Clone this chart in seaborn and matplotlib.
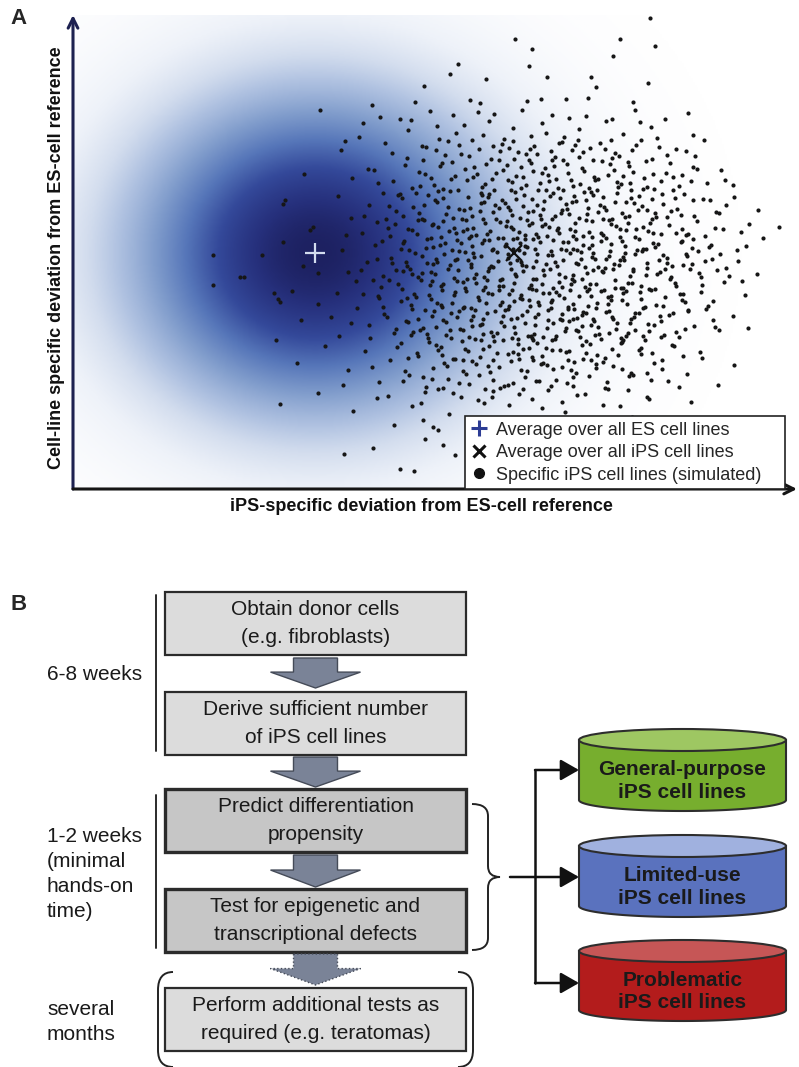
import numpy as np
import pandas as pd
import matplotlib.pyplot as plt
import seaborn as sns
from matplotlib.patches import Rectangle, Polygon, Ellipse, PathPatch
from matplotlib.path import Path
from matplotlib.lines import Line2D
from matplotlib.colors import LinearSegmentedColormap

# ---- panel A data (arbitrary deviation units) ----
es_mean = (24.2, 23.6)
ips_mean = (44.1, 23.6)
es_spread = (12.8, 11.2)

ips_points = [
    (57.7, 47.1), (44.2, 45.0), (54.7, 45.0),
    (45.9, 44.0), (58.2, 44.3), (54.0, 43.3), (38.5, 42.5), (37.7, 41.5), (41.3, 41.0), (45.6, 42.3), (47.4, 41.2),
    (51.8, 41.2), (52.3, 40.2), (57.5, 40.6), (35.1, 40.3),
    (56.0, 38.7), (56.2, 37.9), (51.5, 39.1), (49.3, 39.0), (46.8, 39.0), (45.4, 38.8), (39.7, 38.9), (40.7, 38.6),
    (34.2, 38.7), (29.9, 38.4), (30.7, 37.2), (32.7, 37.0), (24.7, 37.9), (59.2, 37.0), (36.4, 36.3), (42.1, 37.5),
    (44.0, 36.1), (47.9, 37.4), (50.6, 36.0), (53.3, 36.8), (38.3, 35.6), (33.5, 35.9), (28.6, 35.2), (41.0, 35.4),
    (45.8, 35.3), (49.1, 35.2), (55.0, 35.5), (57.8, 36.2), (62.0, 35.4), (35.7, 37.8),
    (23.1, 31.5), (26.8, 33.9), (29.5, 32.0), (31.2, 34.6), (32.0, 30.8), (33.4, 33.1), (34.6, 31.7), (35.3, 34.2),
    (36.1, 30.4), (36.9, 32.6), (37.5, 34.8), (38.2, 31.3), (38.8, 33.5), (39.4, 30.9), (40.1, 32.2), (40.6, 34.0),
    (41.2, 30.5), (41.8, 33.0), (42.3, 31.6), (42.9, 34.5), (43.4, 32.4), (43.9, 30.7), (44.5, 33.7), (45.0, 31.2),
    (45.6, 32.9), (46.1, 34.3), (46.7, 30.6), (47.2, 32.1), (47.8, 33.8), (48.3, 31.0), (48.9, 34.7), (49.4, 32.5),
    (50.0, 30.3), (50.6, 33.2), (51.1, 31.8), (51.7, 34.1), (52.2, 30.9), (52.9, 32.8), (53.5, 31.4), (54.2, 33.6),
    (54.8, 30.5), (55.6, 32.3), (56.3, 34.4), (57.1, 31.1), (57.9, 33.0), (58.8, 30.8), (59.7, 32.6), (60.9, 31.4),
    (62.2, 33.3), (63.4, 30.6), (64.8, 31.9), (66.0, 30.4), (35.0, 32.9), (39.9, 34.9), (44.8, 30.1), (49.9, 33.9),
    (53.8, 34.9), (30.5, 30.6), (27.9, 31.1), (43.1, 35.0),
    (21.0, 28.5), (21.2, 28.9), (23.7, 25.9), (24.0, 26.2), (26.5, 29.3), (27.8, 27.1), (28.9, 25.6), (29.6, 28.4),
    (30.4, 26.7), (31.0, 29.6), (31.7, 25.3), (32.3, 27.8), (32.9, 29.1), (33.5, 26.0), (34.0, 28.2), (34.4, 25.5),
    (34.9, 27.0), (35.5, 29.4), (35.9, 26.4), (36.4, 28.7), (36.8, 25.2), (37.3, 27.5), (37.7, 29.8), (38.1, 26.1),
    (38.6, 28.0), (39.0, 25.8), (39.5, 29.2), (39.9, 27.3), (40.3, 25.4), (40.8, 28.6), (41.2, 26.6), (41.6, 29.5),
    (42.0, 27.7), (42.5, 25.1), (42.9, 28.9), (43.3, 26.3), (43.7, 27.9), (44.2, 29.7), (44.6, 25.7), (45.0, 28.3),
    (45.4, 26.9), (45.9, 29.0), (46.3, 25.5), (46.7, 27.4), (47.1, 28.8), (47.6, 26.2), (48.0, 29.6), (48.4, 25.9),
    (48.8, 27.6), (49.3, 28.5), (49.7, 26.0), (50.1, 29.3), (50.6, 27.1), (51.0, 25.3), (51.5, 28.1), (51.9, 26.8),
    (52.4, 29.9), (52.8, 25.6), (53.3, 27.9), (53.8, 26.5), (54.2, 28.7), (54.7, 25.2), (55.2, 27.2), (55.8, 29.1),
    (56.3, 26.0), (56.9, 28.3), (57.5, 25.8), (58.2, 27.6), (58.9, 29.5), (59.6, 26.4), (60.4, 28.0), (61.3, 25.4),
    (62.1, 27.3), (63.0, 29.0), (64.2, 26.1), (65.3, 28.4), (66.8, 25.7), (68.5, 27.9), (70.6, 26.2), (37.0, 26.8),
    (41.0, 27.0), (44.0, 26.0), (47.9, 27.0), (50.3, 25.0), (53.0, 29.2), (55.5, 26.6), (43.5, 28.2), (39.3, 26.9),
    (46.5, 29.9), (33.0, 27.3), (57.9, 27.0), (60.0, 29.9), (49.0, 29.9), (35.8, 25.1), (45.2, 25.0),
    (14.0, 23.4), (18.9, 23.4), (21.0, 24.7), (24.5, 21.6), (26.9, 23.9), (28.3, 20.8), (29.4, 22.7), (30.2, 24.4),
    (31.0, 21.3), (31.8, 23.1), (32.5, 20.5), (33.1, 24.8), (33.7, 22.0), (34.2, 23.6), (34.8, 20.9), (35.3, 24.1),
    (35.8, 21.7), (36.3, 23.0), (36.8, 20.3), (37.2, 24.6), (37.7, 22.4), (38.1, 21.1), (38.6, 23.8), (39.0, 20.7),
    (39.5, 22.9), (39.9, 24.3), (40.3, 21.5), (40.8, 23.3), (41.2, 20.2), (41.6, 24.9), (42.0, 22.2), (42.4, 23.7),
    (42.9, 21.0), (43.3, 24.5), (43.7, 22.6), (44.1, 20.6), (44.6, 23.9), (45.0, 21.8), (45.4, 24.2), (45.8, 20.4),
    (46.3, 22.8), (46.7, 24.7), (47.1, 21.4), (47.5, 23.4), (48.0, 20.1), (48.4, 22.3), (48.8, 24.0), (49.2, 21.2),
    (49.7, 23.6), (50.1, 20.8), (50.5, 22.5), (51.0, 24.4), (51.4, 21.6), (51.9, 23.2), (52.3, 20.5), (52.8, 24.8),
    (53.2, 22.1), (53.7, 23.8), (54.2, 20.9), (54.7, 22.9), (55.2, 24.3), (55.7, 21.3), (56.2, 23.5), (56.8, 20.3),
    (57.4, 22.6), (58.0, 24.6), (58.7, 21.7), (59.4, 23.1), (60.2, 20.6), (61.0, 22.4), (61.9, 24.1), (62.8, 21.2),
    (63.9, 23.0), (65.1, 20.7), (66.5, 22.8), (68.4, 21.5), (67.3, 24.3), (38.4, 24.9), (44.9, 22.4), (51.6, 20.0),
    (57.0, 24.0), (46.0, 21.0), (42.7, 20.9), (50.4, 23.9), (36.0, 22.5), (54.0, 22.0), (48.6, 20.7), (40.0, 23.6),
    (33.0, 21.8), (59.9, 22.3), (16.7, 21.2), (17.1, 21.2), (23.0, 22.3), (27.5, 21.7), (47.7, 22.0), (44.0, 24.0),
    (41.5, 21.8), (52.0, 21.9), (55.0, 20.1), (60.8, 24.7), (62.5, 23.8), (64.4, 21.9), (39.2, 20.1), (34.5, 21.2),
    (30.8, 20.2),
    (14.0, 20.4), (20.1, 19.6), (20.5, 19.0), (20.7, 18.7), (21.9, 19.8), (24.5, 18.5), (22.8, 16.9), (26.6, 15.3),
    (28.4, 18.1), (29.6, 16.4), (30.5, 19.3), (31.4, 17.2), (32.1, 15.6), (32.8, 18.8), (33.5, 16.7), (34.1, 19.5),
    (34.7, 15.9), (35.2, 17.9), (35.8, 19.0), (36.3, 16.2), (36.8, 18.4), (37.3, 15.4), (37.8, 17.6), (38.2, 19.7),
    (38.7, 16.0), (39.1, 18.2), (39.6, 15.2), (40.0, 17.3), (40.5, 19.2), (40.9, 16.5), (41.3, 18.6), (41.8, 15.7),
    (42.2, 17.8), (42.6, 19.9), (43.1, 16.3), (43.5, 18.0), (43.9, 15.1), (44.4, 17.1), (44.8, 19.4), (45.2, 16.6),
    (45.7, 18.3), (46.1, 15.5), (46.5, 17.5), (47.0, 19.6), (47.4, 16.1), (47.8, 18.7), (48.3, 15.3), (48.7, 17.0),
    (49.1, 19.1), (49.6, 16.8), (50.0, 18.5), (50.5, 15.8), (50.9, 17.4), (51.4, 19.8), (51.8, 16.4), (52.3, 18.1),
    (52.8, 15.0), (53.3, 17.7), (53.8, 19.3), (54.3, 16.0), (54.9, 18.9), (55.5, 15.6), (56.1, 17.2), (56.8, 19.0),
    (57.5, 16.5), (58.3, 18.4), (59.1, 15.4), (60.0, 17.6), (61.0, 19.5), (62.1, 16.3), (63.3, 18.0), (64.6, 15.9),
    (66.0, 17.3), (67.5, 16.1), (39.8, 16.9), (44.1, 18.8), (48.0, 16.6), (52.0, 17.0), (46.3, 19.9), (42.0, 15.3),
    (37.0, 16.9), (55.0, 19.6), (50.7, 15.2), (33.9, 18.0), (29.0, 19.5), (58.8, 16.8), (45.5, 15.3), (41.0, 19.9),
    (53.6, 15.6), (61.5, 17.9), (43.0, 17.3), (49.5, 18.0), (35.5, 15.1), (57.0, 15.3), (25.8, 17.2),
    (20.3, 14.9), (22.4, 12.6), (25.2, 14.3), (27.5, 11.9), (29.2, 13.8), (30.6, 10.7), (31.7, 12.9), (32.8, 14.6),
    (33.6, 11.4), (34.5, 13.3), (35.3, 10.2), (36.0, 12.1), (36.8, 14.2), (37.5, 11.0), (38.2, 13.0), (38.9, 14.8),
    (39.6, 10.5), (40.3, 12.5), (41.0, 14.0), (41.7, 11.7), (42.4, 13.6), (43.1, 10.3), (43.8, 12.8), (44.5, 14.5),
    (45.2, 11.2), (45.9, 13.2), (46.6, 10.8), (47.3, 14.1), (48.0, 12.0), (48.7, 13.9), (49.4, 10.6), (50.1, 12.7),
    (50.9, 14.4), (51.6, 11.3), (52.4, 13.4), (53.2, 10.1), (54.0, 12.3), (54.9, 14.7), (55.8, 11.6), (56.8, 13.5),
    (57.8, 10.9), (58.9, 12.9), (60.1, 14.3), (61.4, 11.5), (62.9, 13.1), (64.5, 10.4), (66.1, 12.4), (39.0, 11.8),
    (44.0, 13.7), (47.0, 12.6), (51.0, 13.0), (42.0, 10.9), (36.5, 13.9), (53.9, 14.0), (49.8, 11.9), (45.0, 10.0),
    (33.0, 10.8), (57.2, 14.9), (46.0, 14.9), (40.8, 14.9),
    (20.7, 8.5), (24.5, 9.6), (28.0, 7.8), (30.4, 9.1), (32.1, 6.4), (33.9, 8.3), (35.2, 9.7), (36.5, 5.9),
    (37.6, 7.5), (38.8, 9.2), (39.9, 6.8), (41.1, 8.6), (42.3, 5.4), (43.4, 7.1), (44.6, 9.5), (45.7, 6.2),
    (46.9, 8.1), (48.0, 5.6), (49.2, 7.7), (50.4, 9.4), (51.7, 6.5), (53.0, 8.4), (54.4, 5.3), (55.9, 7.2),
    (57.6, 9.0), (59.5, 6.9), (61.8, 8.7), (42.0, 9.8), (47.5, 9.9), (35.0, 6.9),
    (32.7, 2.0), (35.2, 5.0), (36.0, 6.2), (38.2, 3.4), (30.0, 4.1), (34.1, 1.8), (37.0, 4.4), (44.0, 4.0),
    (50.0, 3.0), (27.1, 3.5),
    # denser core of the simulated cloud
    (33.8, 36.9), (37.2, 33.4), (40.5, 37.7), (43.6, 34.1), (46.9, 36.6), (48.2, 33.2), (51.3, 37.3), (52.7, 34.6),
    (55.9, 33.9), (58.4, 35.1), (31.9, 33.6), (36.6, 35.0), (39.1, 36.4), (42.7, 33.8), (44.9, 37.9), (47.3, 35.6),
    (50.2, 34.4), (53.9, 37.0), (56.7, 36.7), (60.3, 34.0), (34.9, 34.3), (41.6, 36.8), (45.3, 33.5), (49.6, 37.1),
    (54.6, 33.3), (38.0, 37.4), (29.0, 36.6), (61.5, 37.6), (27.2, 34.8), (63.1, 34.9),
    (30.1, 31.9), (31.6, 28.3), (33.2, 32.4), (34.3, 29.6), (35.8, 31.1), (36.2, 28.9), (37.9, 32.7), (38.5, 29.9),
    (39.7, 28.1), (40.4, 31.5), (41.5, 29.2), (42.6, 32.9), (43.2, 28.6), (44.3, 31.3), (45.1, 29.4), (45.8, 32.6),
    (46.4, 28.4), (47.6, 30.8), (48.1, 32.3), (48.7, 29.1), (49.5, 31.6), (50.3, 28.8), (50.9, 32.1), (51.8, 29.7),
    (52.5, 31.0), (53.1, 28.2), (53.7, 32.5), (54.5, 30.2), (55.3, 28.7), (56.0, 31.7), (56.6, 29.3), (57.3, 32.8),
    (58.1, 30.0), (59.0, 28.5), (60.0, 31.2), (61.1, 29.5), (62.4, 32.0), (63.7, 28.9), (65.2, 30.9), (34.7, 30.3),
    (37.0, 30.0), (39.2, 32.0), (41.9, 31.0), (43.8, 29.9), (46.0, 31.8), (48.5, 30.1), (50.7, 30.5), (52.0, 32.9),
    (54.1, 31.9), (57.0, 30.0), (59.3, 31.6), (44.8, 32.2), (42.2, 28.4), (47.0, 28.0), (51.3, 28.9), (55.7, 30.6),
    (32.5, 29.4), (36.7, 32.3), (40.8, 29.6), (61.8, 30.8),
    (29.1, 27.3), (30.9, 24.8), (32.2, 26.5), (33.6, 23.9), (34.6, 27.6), (35.4, 25.0), (36.5, 26.2), (37.1, 23.5),
    (38.0, 27.1), (38.8, 24.6), (39.4, 26.0), (40.1, 23.2), (40.7, 27.8), (41.4, 25.5), (41.9, 23.9), (42.7, 26.7),
    (43.2, 24.3), (43.9, 27.4), (44.4, 25.1), (45.1, 23.6), (45.6, 26.4), (46.2, 24.0), (46.8, 27.0), (47.4, 25.3),
    (47.9, 23.4), (48.5, 26.1), (49.0, 24.7), (49.6, 27.5), (50.2, 25.8), (50.8, 23.7), (51.3, 26.9), (51.9, 24.4),
    (52.5, 27.7), (53.0, 25.4), (53.6, 23.3), (54.3, 26.3), (54.9, 24.8), (55.6, 27.3), (56.2, 25.2), (56.9, 23.8),
    (57.7, 26.6), (58.5, 24.5), (59.4, 27.2), (60.3, 25.6), (61.3, 23.5), (62.4, 26.8), (63.6, 24.2), (65.0, 26.0),
    (66.4, 23.9), (69.0, 25.1), (36.0, 24.2), (39.8, 25.3), (42.3, 27.0), (44.7, 24.6), (47.2, 26.5), (49.3, 23.9),
    (51.6, 25.7), (53.9, 27.0), (55.2, 23.6), (58.0, 25.6), (60.8, 27.4), (37.6, 25.8), (43.5, 23.1), (46.0, 25.0),
    (48.9, 27.9), (52.2, 23.0), (54.7, 26.0), (57.3, 24.0), (41.1, 24.9), (35.1, 26.9), (31.5, 26.1), (33.0, 24.6),
    (45.5, 27.7), (50.0, 24.0), (56.5, 27.9), (59.0, 23.4), (62.0, 25.0), (38.4, 23.0), (27.3, 25.4), (64.3, 27.7),
    (28.8, 21.9), (30.6, 19.1), (31.9, 22.6), (32.9, 20.0), (33.8, 18.4), (34.9, 21.6), (35.6, 19.4), (36.4, 22.7),
    (37.0, 20.5), (37.9, 18.6), (38.5, 21.9), (39.3, 19.8), (39.8, 22.5), (40.6, 18.9), (41.1, 21.2), (41.9, 19.5),
    (42.5, 22.8), (43.0, 20.3), (43.6, 18.3), (44.2, 21.5), (44.7, 19.1), (45.3, 22.3), (45.9, 20.0), (46.5, 18.7),
    (47.0, 21.9), (47.6, 19.6), (48.2, 22.7), (48.9, 20.2), (49.5, 18.2), (50.0, 21.4), (50.6, 19.3), (51.2, 22.2),
    (51.7, 20.5), (52.4, 18.6), (53.0, 21.7), (53.5, 19.2), (54.1, 22.5), (54.8, 20.1), (55.4, 18.5), (56.0, 21.8),
    (56.7, 19.7), (57.4, 22.1), (58.2, 20.0), (59.0, 18.3), (59.8, 21.2), (60.7, 19.5), (61.7, 22.0), (62.9, 20.4),
    (64.0, 18.8), (65.6, 21.3), (35.9, 20.8), (38.2, 22.9), (40.3, 20.6), (42.7, 18.4), (44.4, 22.9), (46.3, 21.0),
    (48.6, 19.4), (50.9, 21.0), (52.8, 19.8), (55.1, 22.9), (57.0, 18.1), (59.4, 22.6), (36.9, 18.2), (41.6, 22.1),
    (45.6, 18.9), (49.8, 20.5), (53.8, 18.9), (58.4, 21.5), (61.2, 18.7), (33.4, 22.3), (30.0, 20.9), (26.4, 19.6),
    (47.8, 18.1), (43.9, 19.9), (51.5, 18.3), (55.9, 20.6), (39.0, 18.1), (63.2, 22.8), (67.2, 19.4), (34.3, 19.2),
    (29.7, 15.1), (31.1, 17.5), (32.4, 14.2), (33.3, 16.8), (34.4, 13.6), (35.0, 16.1), (36.1, 17.8), (36.9, 13.4),
    (37.7, 15.9), (38.4, 17.2), (39.2, 14.0), (39.9, 16.3), (40.7, 13.2), (41.4, 17.6), (42.1, 14.8), (42.8, 16.7),
    (43.5, 13.5), (44.2, 15.6), (44.9, 17.4), (45.6, 14.1), (46.2, 16.4), (46.9, 13.3), (47.5, 17.9), (48.2, 15.0),
    (48.9, 16.9), (49.6, 13.8), (50.3, 15.9), (51.0, 17.7), (51.7, 14.5), (52.5, 16.2), (53.2, 13.1), (54.0, 17.0),
    (54.8, 14.6), (55.7, 16.6), (56.6, 13.9), (57.6, 15.8), (58.7, 17.3), (59.9, 14.4), (61.2, 16.0), (62.7, 13.7),
    (38.0, 13.0), (41.0, 15.5), (43.8, 17.0), (45.9, 15.1), (47.9, 13.9), (50.0, 17.0), (52.2, 15.4), (53.6, 17.8),
    (55.3, 15.3), (57.9, 13.6), (35.6, 14.7), (40.2, 17.9), (44.6, 13.0), (49.3, 16.1), (51.3, 13.6), (56.2, 17.6),
    (60.6, 15.2), (33.8, 15.4), (27.8, 16.6), (64.0, 16.9),
    (27.0, 10.4), (29.9, 12.2), (31.5, 9.3), (33.2, 11.8), (34.8, 8.6), (35.9, 11.0), (37.1, 12.6), (38.0, 9.6),
    (39.3, 11.5), (40.5, 8.9), (41.5, 12.3), (42.7, 10.1), (43.6, 8.4), (44.8, 11.9), (45.9, 9.0), (46.8, 12.5),
    (47.8, 10.3), (48.9, 8.7), (50.0, 11.2), (51.2, 9.5), (52.3, 12.1), (53.5, 10.0), (54.7, 8.3), (56.0, 11.4),
    (57.4, 9.2), (58.9, 12.0), (60.6, 10.2), (36.5, 10.0), (41.9, 9.2), (46.3, 10.8), (49.5, 12.9), (53.0, 12.7),
    (44.0, 10.6), (39.0, 12.9), (55.5, 9.9),
    # innermost, most crowded part around the iPS average
    (36.3, 33.9), (37.8, 31.0), (39.6, 33.3), (40.9, 30.2), (42.0, 34.3), (43.0, 31.9), (44.1, 33.0), (45.3, 30.4),
    (46.4, 33.5), (47.5, 31.4), (48.6, 34.6), (49.8, 30.9), (51.0, 33.7), (52.1, 31.2), (53.2, 34.0), (54.4, 30.7),
    (55.5, 32.7), (56.8, 34.9), (58.0, 31.5), (59.4, 33.4), (60.6, 30.3), (62.0, 32.2), (38.6, 34.4), (41.3, 32.5),
    (44.0, 34.8), (46.9, 31.6), (49.0, 32.9), (51.6, 30.1), (53.9, 33.1), (57.4, 30.2), (35.2, 31.5), (40.0, 31.2),
    (43.5, 30.9), (47.9, 32.9), (50.5, 34.9), (55.0, 31.3), (58.6, 34.2), (33.9, 30.1), (61.3, 33.8), (45.7, 34.0),
    (31.3, 27.0), (32.7, 29.5), (33.9, 25.9), (35.1, 28.4), (36.0, 26.5), (37.0, 29.1), (38.3, 25.6), (39.1, 27.9),
    (40.0, 26.1), (40.9, 29.4), (41.7, 25.8), (42.6, 28.1), (43.4, 26.8), (44.3, 29.0), (45.2, 25.4), (46.0, 27.8),
    (46.9, 26.3), (47.7, 29.3), (48.6, 25.6), (49.4, 28.0), (50.2, 26.6), (51.1, 29.7), (51.9, 25.2), (52.7, 28.4),
    (53.6, 26.9), (54.4, 29.6), (55.3, 25.9), (56.1, 28.6), (57.0, 26.2), (57.9, 29.0), (58.8, 25.5), (59.8, 27.8),
    (60.9, 26.0), (62.0, 28.9), (63.2, 25.3), (64.6, 27.6), (66.1, 29.2), (67.6, 26.5), (37.5, 28.2), (41.1, 28.7),
    (44.7, 27.1), (48.2, 27.3), (51.4, 27.5), (54.9, 27.6), (58.3, 27.2), (39.6, 25.1), (43.0, 25.1), (46.5, 25.2),
    (50.0, 25.3), (53.3, 25.1), (56.6, 25.0), (61.5, 25.5), (36.5, 29.8), (42.1, 29.9), (47.3, 29.9), (52.0, 29.4),
    (55.8, 29.9), (34.5, 26.9), (45.9, 26.6), (49.9, 28.7), (53.0, 27.0), (57.4, 27.9), (60.2, 29.1), (43.8, 26.2),
    (38.9, 27.0),
    (30.4, 23.0), (31.6, 20.9), (32.8, 24.0), (33.9, 21.5), (34.9, 23.3), (35.7, 20.4), (36.7, 24.4), (37.5, 22.0),
    (38.4, 20.8), (39.2, 23.7), (40.1, 21.1), (40.9, 24.6), (41.8, 22.3), (42.6, 20.3), (43.5, 23.5), (44.3, 21.3),
    (45.2, 24.3), (46.0, 22.2), (46.9, 20.5), (47.8, 23.8), (48.6, 21.5), (49.5, 24.7), (50.3, 22.6), (51.2, 20.2),
    (52.0, 23.6), (52.9, 21.8), (53.8, 24.5), (54.6, 22.4), (55.5, 20.6), (56.4, 23.9), (57.3, 21.4), (58.2, 24.2),
    (59.2, 22.0), (60.3, 20.3), (61.4, 23.3), (62.6, 21.6), (63.8, 24.4), (65.3, 22.1), (66.9, 20.8), (36.2, 21.5),
    (39.8, 22.2), (42.0, 24.0), (44.8, 22.7), (47.3, 22.5), (49.9, 21.0), (52.5, 22.2), (55.0, 23.2), (58.6, 22.9),
    (37.9, 23.9), (41.4, 20.9), (45.6, 20.1), (48.0, 24.9), (51.6, 24.1), (54.2, 20.1), (57.6, 20.0), (60.9, 24.8),
    (33.3, 22.7), (43.8, 22.0), (46.4, 23.5), (50.8, 23.0), (53.3, 23.0), (56.0, 22.0), (59.7, 21.0), (39.4, 21.0),
    (35.4, 22.6), (61.9, 22.5), (44.0, 25.0), (49.0, 22.9), (32.3, 21.9), (64.7, 23.5),
    (31.0, 18.2), (32.3, 16.0), (33.4, 19.1), (34.5, 17.0), (35.4, 15.5), (36.4, 18.6), (37.3, 16.7), (38.1, 19.4),
    (39.0, 15.9), (39.8, 18.1), (40.7, 16.4), (41.5, 19.6), (42.4, 15.6), (43.2, 17.9), (44.1, 16.2), (44.9, 19.0),
    (45.8, 15.3), (46.6, 18.4), (47.5, 16.9), (48.3, 19.7), (49.2, 15.8), (50.1, 18.0), (50.9, 16.3), (51.8, 19.3),
    (52.6, 15.5), (53.5, 18.5), (54.4, 16.6), (55.3, 19.8), (56.2, 15.9), (57.2, 18.2), (58.1, 16.4), (59.2, 19.2),
    (60.3, 15.7), (61.5, 17.8), (62.8, 19.7), (64.2, 16.2), (37.8, 15.1), (41.0, 17.0), (43.6, 19.5), (46.2, 17.2),
    (48.9, 17.5), (51.3, 17.6), (53.9, 17.2), (56.6, 17.6), (59.6, 17.4), (35.9, 17.3), (40.2, 15.0), (45.4, 17.8),
    (49.7, 19.9), (54.8, 15.1), (42.9, 18.7), (47.0, 15.2), (52.1, 16.8), (57.8, 19.9), (38.6, 17.8), (44.5, 15.0),
    (50.4, 17.1), (55.8, 17.0), (60.9, 18.9), (34.0, 15.7), (36.9, 19.9), (47.9, 18.9), (53.1, 19.9), (58.8, 15.2),
    (63.5, 18.3),
    (33.5, 13.1), (35.0, 11.2), (36.3, 14.4), (37.4, 12.3), (38.6, 10.6), (39.5, 13.8), (40.6, 11.4), (41.6, 14.3),
    (42.6, 12.2), (43.5, 10.4), (44.5, 13.5), (45.4, 11.8), (46.4, 14.6), (47.4, 12.4), (48.3, 10.9), (49.3, 13.7),
    (50.3, 11.6), (51.3, 14.8), (52.3, 12.5), (53.4, 10.7), (54.5, 13.4), (55.6, 11.3), (56.8, 14.1), (58.1, 12.6),
    (59.5, 10.8), (61.0, 13.3), (39.9, 12.8), (43.0, 14.9), (46.0, 12.9), (48.9, 12.2), (51.8, 12.9), (54.9, 12.0),
    (57.4, 11.6), (37.0, 10.1), (41.2, 10.0), (45.0, 14.0), (50.0, 10.3), (55.0, 14.9), (47.9, 14.9), (42.0, 12.9),
]

legend_labels = ["Average over all ES cell lines",
                 "Average over all iPS cell lines",
                 "Specific iPS cell lines (simulated)"]
x_label = "iPS-specific deviation from ES-cell reference"
y_label = "Cell-line specific deviation from ES-cell reference"

# ---- panel B data ----
steps = ["Obtain donor cells\n(e.g. fibroblasts)",
         "Derive sufficient number\nof iPS cell lines",
         "Predict differentiation\npropensity",
         "Test for epigenetic and\ntranscriptional defects",
         "Perform additional tests as\nrequired (e.g. teratomas)"]
step_kind = ["light", "light", "dark", "dark", "light"]
durations = ["6-8 weeks", "1-2 weeks\n(minimal\nhands-on\ntime)", "several\nmonths"]
outcomes = ["General-purpose\niPS cell lines", "Limited-use\niPS cell lines", "Problematic\niPS cell lines"]
outcome_colors = [("#77ae2e", "#9ec762"), ("#5a72be", "#a0b1df"), ("#b31c1c", "#c65656")]

sns.set_style("white")
plt.rcParams["font.family"] = ["Liberation Sans", "DejaVu Sans"]

fig = plt.figure(figsize=(7.99, 10.67), dpi=100)

# full-figure axes for the diagram, in pixel units
ax2 = fig.add_axes([0, 0, 1, 1], zorder=0)
ax2.set_xlim(0, 799)
ax2.set_ylim(1067, 0)
ax2.axis("off")

# ---- panel A ----
W, H = 72.4, 47.4
ax1 = fig.add_axes([73 / 799, (1067 - 489) / 1067, 724 / 799, 474 / 1067], zorder=2)

cmap = LinearSegmentedColormap.from_list("es", [
    (0.0, "#ffffff"), (0.1, "#eef2f9"), (0.2, "#d3ddee"), (0.3, "#b0c2e1"),
    (0.45, "#819dcc"), (0.6, "#5676b9"), (0.75, "#34499a"), (0.9, "#26307c"), (1.0, "#1d2161")])
gx, gy = np.meshgrid(np.linspace(0, W, 400), np.linspace(0, H, 260))
dens = np.exp(-0.5 * (((gx - es_mean[0]) / es_spread[0]) ** 2 + ((gy - es_mean[1]) / es_spread[1]) ** 2))
ax1.imshow(dens, extent=[0, W, 0, H], origin="lower", cmap=cmap, vmin=0, vmax=1,
           aspect="auto", interpolation="bilinear", zorder=0)

df = pd.DataFrame(ips_points, columns=["x", "y"])
sns.scatterplot(data=df, x="x", y="y", ax=ax1, color="#161616", s=9, linewidth=0, legend=False, zorder=3)
ax1.plot(*es_mean, marker="+", ms=15, mew=1.6, color="#d3dcef", zorder=4)
ax1.plot(*ips_mean, marker="x", ms=12, mew=1.6, color="#111111", zorder=4)

ax1.set_xlim(0, W)
ax1.set_ylim(0, H)
ax1.set_xticks([])
ax1.set_yticks([])
for s in ax1.spines.values():
    s.set_visible(False)

ax1.set_xlabel(x_label, fontsize=13, fontweight="bold", color="#111111")
ax1.set_ylabel(y_label, fontsize=13, fontweight="bold", color="#111111")
ax1.xaxis.set_label_coords(0.481, -0.02)
ax1.yaxis.set_label_coords(-0.011, 0.489)

arrow_kw = dict(arrowstyle="->,head_length=0.7,head_width=0.35", lw=2.2, shrinkA=0, shrinkB=0)
ax1.annotate("", xy=(0, 1), xytext=(0, 0), xycoords="axes fraction",
             arrowprops=dict(color="#1d2150", **arrow_kw), annotation_clip=False)
ax1.annotate("", xy=(1, 0), xytext=(0, 0), xycoords="axes fraction",
             arrowprops=dict(color="#151515", **arrow_kw), annotation_clip=False)

handles = [Line2D([], [], ls="", marker="+", ms=12, mew=2.2, color="#2c3c94"),
           Line2D([], [], ls="", marker="x", ms=8, mew=2.2, color="#111111"),
           Line2D([], [], ls="", marker="o", ms=7, color="#111111")]
leg_x0 = (465 - 73) / 724
leg = ax1.legend(handles, legend_labels, loc="lower left", mode="expand",
                 bbox_to_anchor=(leg_x0, 0.0, 0.983 - leg_x0, 0.15),
                 borderaxespad=0, fancybox=False, framealpha=1, edgecolor="#222222",
                 fontsize=13, handlelength=0.9, handletextpad=0.5, borderpad=0.3,
                 labelspacing=0.3)
leg.get_frame().set_linewidth(1.2)
leg.set_zorder(6)

# ---- panel labels ----
ax2.text(10, 18, "A", fontsize=16, fontweight="bold", va="center", ha="left")
ax2.text(10, 605, "B", fontsize=16, fontweight="bold", va="center", ha="left")

# ---- panel B: process boxes ----
box_x0, box_x1, box_h = 165, 466, 63
box_tops = [592, 692, 789, 889, 988]
fills = {"light": "#dcdcdc", "dark": "#c6c6c6"}
for label, kind, top in zip(steps, step_kind, box_tops):
    ax2.add_patch(Rectangle((box_x0, top), box_x1 - box_x0, box_h, facecolor=fills[kind],
                            edgecolor="#2b2b2b", lw=2.4 if kind == "dark" else 1.6))
    ax2.text((box_x0 + box_x1) / 2, top + box_h / 2, label, ha="center", va="center",
             fontsize=15, color="#1a1a1a", linespacing=1.6)

# block arrows between boxes
cx = (box_x0 + box_x1) / 2
for y0, y1, dotted in [(658, 688, False), (757, 787, False), (855, 887, False), (954, 985, True)]:
    yh = y0 + (y1 - y0) * 0.47
    pts = [(cx - 22, y0), (cx + 22, y0), (cx + 22, yh), (cx + 45, yh), (cx, y1), (cx - 45, yh), (cx - 22, yh)]
    ax2.add_patch(Polygon(pts, closed=True, facecolor="#7a8397", edgecolor="#454b58",
                          lw=1.0, ls=":" if dotted else "-"))

# durations and timeline brackets
ax2.text(47, 675, durations[0], fontsize=15, va="center", ha="left", color="#1a1a1a")
ax2.text(47, 874, durations[1], fontsize=15, va="center", ha="left", color="#1a1a1a", linespacing=1.4)
ax2.text(47, 1022, durations[2], fontsize=15, va="center", ha="left", color="#1a1a1a", linespacing=1.4)
ax2.plot([156, 156], [595, 751], color="#2b2b2b", lw=1.4)
ax2.plot([156, 156], [795, 948], color="#2b2b2b", lw=1.4)


def curve(ax, verts, codes):
    ax.add_patch(PathPatch(Path(verts, codes), facecolor="none", edgecolor="#222222", lw=1.4))


C3, L2, MV = Path.CURVE3, Path.LINETO, Path.MOVETO
# parentheses around the last step
curve(ax2, [(173, 972), (158, 972), (158, 990), (158, 1050), (158, 1067), (173, 1067)],
      [MV, C3, C3, L2, C3, C3])
curve(ax2, [(458, 972), (473, 972), (473, 990), (473, 1050), (473, 1067), (458, 1067)],
      [MV, C3, C3, L2, C3, C3])
# brace grouping the two prediction steps
curve(ax2, [(472, 804), (488, 804), (488, 816), (488, 866), (488, 877), (500, 877),
            (488, 877), (488, 888), (488, 938), (488, 950), (472, 950)],
      [MV, C3, C3, L2, C3, C3, C3, C3, L2, C3, C3])

# connectors to outcome cylinders
cyl_x0, cyl_x1, ry = 579, 786, 11
ax2.plot([535, 535], [770, 983], color="#111111", lw=1.8)
head = dict(arrowstyle="-|>,head_length=0.7,head_width=0.4", color="#111111", lw=1.8,
            shrinkA=0, shrinkB=0, mutation_scale=16)
for xs, y in [(535, 770), (510, 877), (535, 983)]:
    ax2.annotate("", xy=(cyl_x0, y), xytext=(xs, y), arrowprops=head)

# outcome cylinders
cyl_spans = [(740, 800), (846, 906), (951, 1010)]
cxc, rx = (cyl_x0 + cyl_x1) / 2, (cyl_x1 - cyl_x0) / 2
th = np.linspace(np.pi, 0, 80)
for label, (body, top), (ytop, ybot) in zip(outcomes, outcome_colors, cyl_spans):
    arc = np.column_stack([cxc + rx * np.cos(th), ybot + ry * np.sin(th)])
    outline = np.vstack([[(cyl_x0, ytop)], arc, [(cyl_x1, ytop)]])
    ax2.add_patch(Polygon(outline, closed=True, facecolor=body, edgecolor="#2d2d2d", lw=1.5))
    ax2.add_patch(Ellipse((cxc, ytop), 2 * rx, 2 * ry, facecolor=top, edgecolor="#2d2d2d", lw=1.5))
    ax2.text(cxc, (ytop + ybot) / 2 + 11, label, ha="center", va="center", fontsize=15,
             fontweight="bold", color="#1a1a1a", linespacing=1.25)

fig.savefig("out.png", dpi=100)
